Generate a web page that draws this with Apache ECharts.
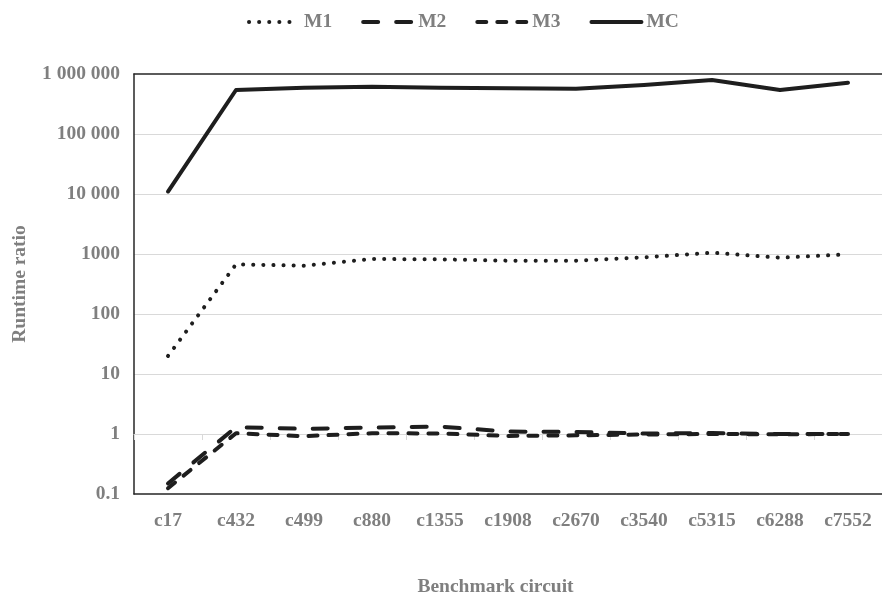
<!DOCTYPE html>
<html>
<head>
<meta charset="utf-8">
<script src="https://cdn.jsdelivr.net/npm/echarts@6/dist/echarts.min.js"></script>
<style>
html,body{margin:0;padding:0;background:#fff;}
#chart{width:882px;height:602px;}
</style>
</head>
<body>
<div id="chart"></div>
<script>
const categories = ['c17','c432','c499','c880','c1355','c1908','c2670','c3540','c5315','c6288','c7552'];
const seriesNames = ['M1','M2','M3','MC'];
const m1 = [20, 673, 638, 825, 815, 774, 774, 880, 1050, 868, 987];
const m2 = [0.15, 1.3, 1.22, 1.28, 1.33, 1.1, 1.08, 1.02, 1.04, 1.0, 1.0];
const m3 = [0.125, 1.03, 0.92, 1.03, 1.02, 0.93, 0.95, 0.98, 1.0, 0.99, 1.0];
const mc = [11000, 541000, 592000, 615000, 590000, 577000, 570000, 656000, 794000, 541000, 717000];
const yTickLabels = ['0.1','1','10','100','1000','10 000','100 000','1 000 000'];
const xAxisName = 'Benchmark circuit';
const yAxisName = 'Runtime ratio';

const FONT = '"Liberation Serif", "Times New Roman", serif';
const TXT = '#7f7f7f';
const LINE = '#1e1e1e';
const textStyle = {fontFamily: FONT, fontWeight: 'bold', fontSize: 19.5, color: TXT};
const dashes = {M1: [0.1, 10], M2: [15, 18], M3: [9, 11], MC: 'solid'};

const chart = echarts.init(document.getElementById('chart'), null, {renderer: 'canvas'});
const mk = (name, data) => ({
  name, type: 'line', data, symbol: 'none', smooth: false,
  xAxisIndex: 0, yAxisIndex: 0,
  lineStyle: {color: LINE, width: 4, type: dashes[name], cap: 'round', join: 'round'},
  itemStyle: {color: LINE}
});
chart.setOption({
  animation: false,
  backgroundColor: '#ffffff',
  textStyle: {fontFamily: FONT},
  legend: {
    top: 7, left: 242,
    itemWidth: 50, itemHeight: 14, itemGap: 29,
    itemStyle: {opacity: 0},
    textStyle: textStyle,
    data: seriesNames.map(n => ({name: n, lineStyle: {color: LINE, width: 4, type: dashes[n], cap: 'round'}}))
  },
  grid: [
    {left: 134, top: 74, width: 752, height: 420, containLabel: false},
    {left: 109, top: 74, width: 776, height: 420, containLabel: false}
  ],
  xAxis: [
    {
      type: 'category', data: categories, position: 'bottom', boundaryGap: true, gridIndex: 0,
      axisLine: {show: true, lineStyle: {color: '#262626', width: 1.5}},
      axisTick: {show: false},
      axisLabel: Object.assign({}, textStyle, {margin: 17, interval: 0}),
      splitLine: {show: false}
    },
    {
      type: 'category', data: categories, position: 'bottom', offset: -60, boundaryGap: true, gridIndex: 0,
      axisLine: {show: true, lineStyle: {color: '#d9d9d9', width: 1}},
      axisTick: {show: true, length: 6, interval: 0, lineStyle: {color: '#d9d9d9'}},
      axisLabel: {show: false},
      splitLine: {show: false}
    },
    {
      type: 'category', data: categories, position: 'top', gridIndex: 0,
      axisLine: {show: true, lineStyle: {color: '#262626', width: 1.5}},
      axisTick: {show: false}, axisLabel: {show: false}, splitLine: {show: false}
    },
    {
      type: 'category', data: categories, position: 'bottom', boundaryGap: true, gridIndex: 1,
      axisLine: {show: false}, axisTick: {show: false},
      axisLabel: {show: false},
      name: xAxisName, nameLocation: 'middle', nameGap: 96,
      nameTextStyle: textStyle,
      splitLine: {show: false}
    }
  ],
  yAxis: [
    {
      type: 'log', logBase: 10, min: 0.1, max: 1000000, gridIndex: 0,
      axisLine: {show: true, lineStyle: {color: '#262626', width: 1.5}},
      axisTick: {show: false},
      axisLabel: Object.assign({}, textStyle, {
        margin: 14,
        formatter: v => yTickLabels[Math.round(Math.log10(v)) + 1]
      }),
      splitLine: {show: true, showMinLine: false, showMaxLine: false, lineStyle: {color: '#d9d9d9', width: 1}},
      name: yAxisName, nameLocation: 'middle', nameGap: 104, nameRotate: 90,
      nameTextStyle: textStyle
    },
    {
      type: 'value', gridIndex: 1, show: false
    }
  ],
  series: [
    mk('M1', m1),
    mk('M2', m2),
    mk('M3', m3),
    mk('MC', mc)
  ]
});
</script>
</body>
</html>
